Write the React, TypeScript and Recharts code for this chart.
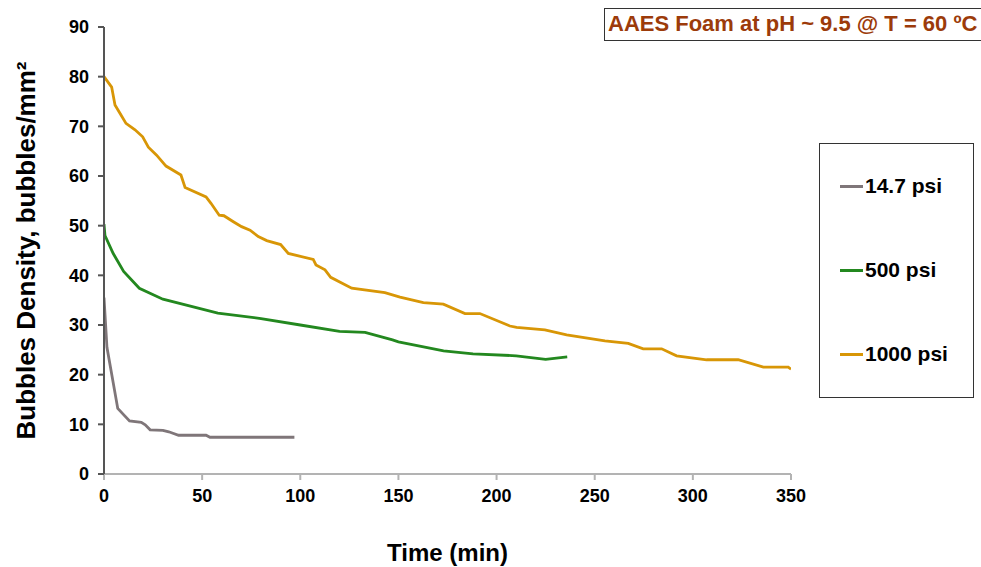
import { LineChart, Line, XAxis, YAxis } from 'recharts';

const xTicks = [0, 50, 100, 150, 200, 250, 300, 350];
const yTicks = [0, 10, 20, 30, 40, 50, 60, 70, 80, 90];

// time (min), bubbles/mm2
const psi147 = [
  [0, 35.5], [1.5, 25.5], [7, 13.2], [13, 10.7], [19, 10.4], [21, 9.9],
  [23.5, 8.9], [30, 8.8], [33, 8.5], [38, 7.8], [52, 7.8], [54, 7.4], [97, 7.4],
];

const psi500 = [
  [0, 50.3], [0.5, 48], [4.7, 44.4], [10, 40.8], [18, 37.4], [30, 35.2],
  [58, 32.4], [80, 31.3], [100, 30], [120, 28.7], [133, 28.5], [147, 27],
  [150, 26.6], [173, 24.8], [188, 24.2], [210, 23.8], [225, 23.1], [236, 23.6],
];

const psi1000 = [
  [0, 80], [3.9, 77.9], [5.6, 74.3], [8.2, 72.6], [11.2, 70.6], [15.8, 69.3],
  [19.7, 67.9], [22.6, 65.8], [26.8, 64.2], [31.6, 62], [39.2, 60.2], [41.3, 57.7],
  [52, 55.8], [54.5, 54.5], [58.7, 52.1], [61.1, 52], [65.9, 50.8], [70.1, 49.8],
  [74.4, 49.1], [78.6, 47.8], [82.9, 47], [90, 46.2], [93.9, 44.4], [106.6, 43.2],
  [108, 42.1], [112.6, 41.1], [115.5, 39.6], [126.2, 37.4], [143.1, 36.5],
  [150.8, 35.6], [162.7, 34.5], [172.9, 34.2], [183.9, 32.3], [191.5, 32.3],
  [206.8, 29.8], [210.2, 29.5], [224.6, 29], [235.7, 28], [255.2, 26.8],
  [267.1, 26.3], [274.7, 25.2], [284.1, 25.2], [291.7, 23.8], [307, 23],
  [323.1, 23], [335.9, 21.5], [348.6, 21.5], [350, 21.1],
];

const toPoints = (rows: number[][]) => rows.map(([t, d]) => ({ t, d }));

const series = [
  { name: '14.7 psi', color: '#7f7679', data: toPoints(psi147) },
  { name: '500 psi', color: '#23881f', data: toPoints(psi500) },
  { name: '1000 psi', color: '#d89606', data: toPoints(psi1000) },
];

const font = 'Arial, "Liberation Sans", sans-serif';

export default function App() {
  return (
    <div style={{ position: 'absolute', left: 0, top: 0, width: 981, height: 567, background: '#fff', overflow: 'hidden' }}>
      <LineChart width={981} height={567} margin={{ top: 27, right: 190, bottom: 63, left: 60 }}>
        <XAxis
          type="number"
          dataKey="t"
          domain={[0, 350]}
          ticks={xTicks}
          height={30}
          allowDataOverflow
          stroke="#b3b3b3"
          strokeWidth={2}
          tickSize={6}
          tick={{ fill: '#000', fontSize: 18, fontWeight: 700, fontFamily: font }}
          tickMargin={9}
          label={{
            value: 'Time (min)',
            position: 'bottom',
            offset: 40,
            style: { fill: '#000', fontSize: 24, fontWeight: 700, fontFamily: font },
          }}
        />
        <YAxis
          type="number"
          dataKey="d"
          domain={[0, 90]}
          ticks={yTicks}
          width={44}
          stroke="#555"
          strokeWidth={2}
          tickSize={6}
          tickMargin={9}
          tick={{ fill: '#000', fontSize: 18, fontWeight: 700, fontFamily: font }}
          label={{
            value: 'Bubbles Density, bubbles/mm²',
            angle: -90,
            position: 'insideLeft',
            offset: -34,
            style: { textAnchor: 'middle', fill: '#000', fontSize: 26, fontWeight: 700, fontFamily: font },
          }}
        />
        {series.map((s) => (
          <Line
            key={s.name}
            data={s.data}
            dataKey="d"
            name={s.name}
            type="linear"
            stroke={s.color}
            strokeWidth={2.8}
            dot={false}
            activeDot={false}
            isAnimationActive={false}
          />
        ))}
      </LineChart>
      <div
        style={{
          position: 'absolute',
          left: 819,
          top: 143,
          width: 155,
          height: 255,
          border: '1.5px solid #333',
          boxSizing: 'border-box',
          fontFamily: font,
          fontWeight: 700,
          fontSize: 21,
          color: '#000',
        }}
      >
        {series.map((s, i) => (
          <div
            key={s.name}
            style={{ position: 'absolute', left: 20, top: 29 + i * 84, height: 26, display: 'flex', alignItems: 'center' }}
          >
            <span style={{ display: 'inline-block', width: 23, height: 3, background: s.color, marginRight: 2 }} />
            <span>{s.name}</span>
          </div>
        ))}
      </div>
      <div
        style={{
          position: 'absolute',
          left: 604,
          top: 8,
          width: 390,
          height: 33,
          border: '1.5px solid #333',
          boxSizing: 'border-box',
          color: '#9c3b0a',
          fontFamily: font,
          fontWeight: 700,
          fontSize: 22,
          lineHeight: '30px',
          paddingLeft: 3,
          whiteSpace: 'nowrap',
        }}
      >
        AAES Foam at pH ~ 9.5 @ T = 60 ºC
      </div>
    </div>
  );
}
